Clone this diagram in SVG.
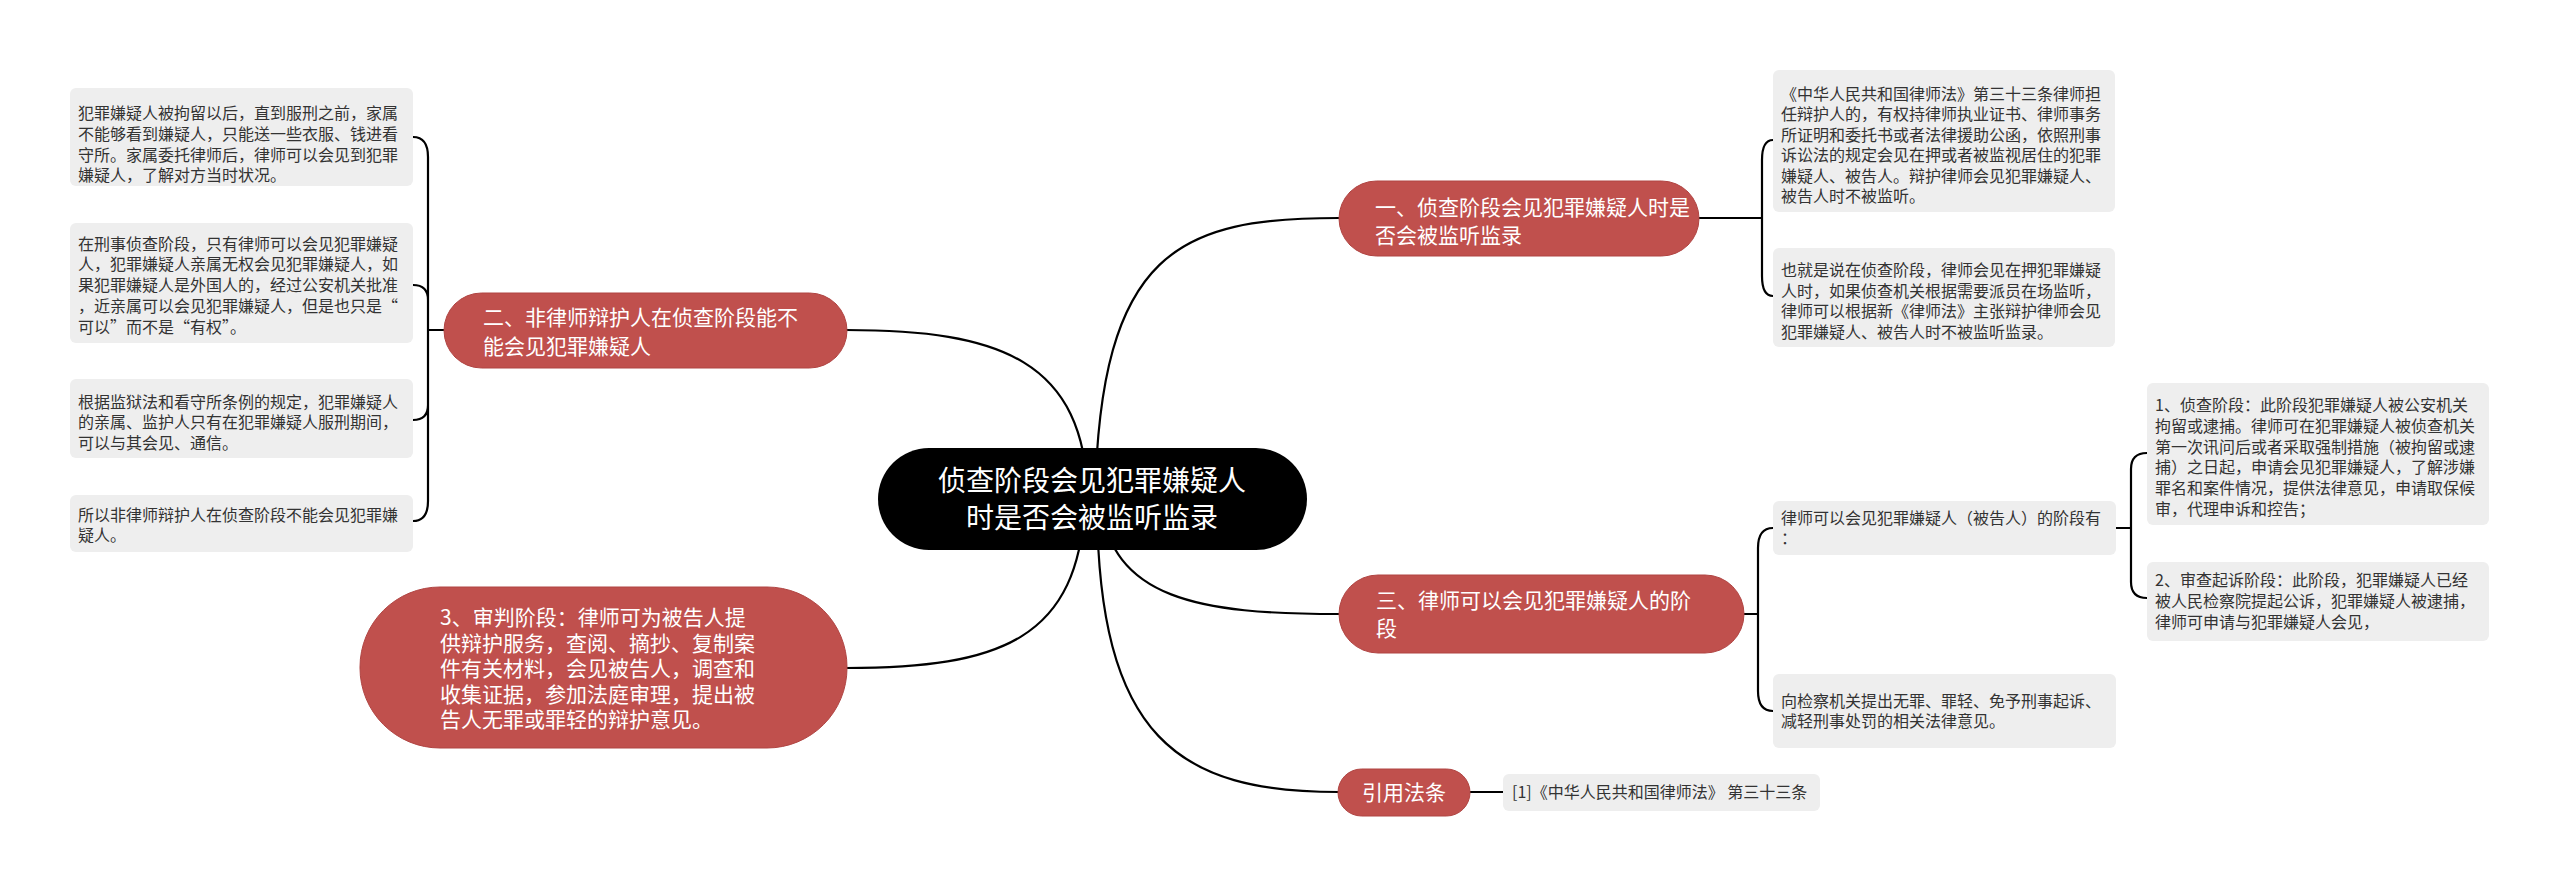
<svg xmlns="http://www.w3.org/2000/svg" width="2560" height="887" viewBox="0 0 2560 887">
<style>
.bg{fill:#ffffff}
.conn{fill:none;stroke:#000;stroke-width:2.2}
.root{fill:#000}
.main{fill:#C0504D;stroke:#B04442;stroke-width:1}
.leaf{fill:#EEEEEE}
.tr{font-family:"Noto Sans CJK SC","Noto Sans",sans-serif;font-size:28px;fill:#fff}
.tm{font-family:"Noto Sans CJK SC","Noto Sans",sans-serif;font-size:21px;fill:#fff}
.tl{font-family:"Noto Sans CJK SC","Noto Sans",sans-serif;font-size:16px;fill:#333}
</style>
<rect class="bg" x="0" y="0" width="2560" height="887"/>
<g id="connectors">
<path class="conn" d="M1095 499 C1100 250,1180 218,1339 218"/>
<path class="conn" d="M846 330 C1000 330,1085 360,1088 499"/>
<path class="conn" d="M846 668 C1000 668,1080 640,1085 499"/>
<path class="conn" d="M1100 499 C1110 600,1200 614,1339 614"/>
<path class="conn" d="M1097 499 C1097 740,1180 792,1339 792"/>
<path class="conn" d="M1470 792 L1503 792"/>
<path class="conn" d="M1699 218 L1762 218 M1773 140 Q1762 140 1762 160 L1762 276 Q1762 296 1773 296"/>
<path class="conn" d="M444 330 L428 330 M413 137 Q428 137 428 157 L428 501 Q428 521 413 521 M413 285 Q428 285 428 300 M413 420 Q428 420 428 405"/>
<path class="conn" d="M1744 614 L1758 614 M1773 528 Q1758 528 1758 548 L1758 691 Q1758 711 1773 711"/>
<path class="conn" d="M2116 528 L2131 528 M2147 453 Q2131 453 2131 469 L2131 582 Q2131 598 2147 598"/>
</g>
<g id="root">
<rect class="root" x="878" y="448" width="429" height="102" rx="51"/>
<text class="tr" x="1092" y="491" text-anchor="middle">侦查阶段会见犯罪嫌疑人</text>
<text class="tr" x="1092" y="528" text-anchor="middle">时是否会被监听监录</text>
</g>
<g id="n1">
<rect class="main" x="1339" y="181" width="360" height="75" rx="37.5"/>
<text class="tm" x="1375" y="215">一、侦查阶段会见犯罪嫌疑人时是</text>
<text class="tm" x="1375" y="243">否会被监听监录</text>
</g>
<g id="n2">
<rect class="main" x="444" y="293" width="403" height="75" rx="37.5"/>
<text class="tm" x="483" y="325">二、非律师辩护人在侦查阶段能不</text>
<text class="tm" x="483" y="354">能会见犯罪嫌疑人</text>
</g>
<g id="n3trial">
<rect class="main" x="360" y="587" width="487" height="161" rx="80"/>
<text class="tm" x="440" y="625">3、审判阶段：律师可为被告人提</text>
<text class="tm" x="440" y="650.5">供辩护服务，查阅、摘抄、复制案</text>
<text class="tm" x="440" y="676">件有关材料，会见被告人，调查和</text>
<text class="tm" x="440" y="701.5">收集证据，参加法庭审理，提出被</text>
<text class="tm" x="440" y="727">告人无罪或罪轻的辩护意见。</text>
</g>
<g id="n3">
<rect class="main" x="1339" y="575" width="405" height="78" rx="39"/>
<text class="tm" x="1376" y="608">三、律师可以会见犯罪嫌疑人的阶</text>
<text class="tm" x="1376" y="636">段</text>
</g>
<g id="n4">
<rect class="main" x="1338" y="769" width="132" height="47" rx="23.5"/>
<text class="tm" x="1404" y="800" text-anchor="middle">引用法条</text>
</g>
<g id="leafA">
<rect class="leaf" x="1773" y="70" width="342" height="142" rx="6"/>
<text class="tl" x="1781" y="99.5">《中华人民共和国律师法》第三十三条律师担</text>
<text class="tl" x="1781" y="120">任辩护人的，有权持律师执业证书、律师事务</text>
<text class="tl" x="1781" y="140.5">所证明和委托书或者法律援助公函，依照刑事</text>
<text class="tl" x="1781" y="161">诉讼法的规定会见在押或者被监视居住的犯罪</text>
<text class="tl" x="1781" y="181.5">嫌疑人、被告人。辩护律师会见犯罪嫌疑人、</text>
<text class="tl" x="1781" y="202">被告人时不被监听。</text>
</g>
<g id="leafB">
<rect class="leaf" x="1773" y="248" width="342" height="99" rx="6"/>
<text class="tl" x="1781" y="276">也就是说在侦查阶段，律师会见在押犯罪嫌疑</text>
<text class="tl" x="1781" y="296.5">人时，如果侦查机关根据需要派员在场监听，</text>
<text class="tl" x="1781" y="317">律师可以根据新《律师法》主张辩护律师会见</text>
<text class="tl" x="1781" y="337.5">犯罪嫌疑人、被告人时不被监听监录。</text>
</g>
<g id="leafC">
<rect class="leaf" x="70" y="88" width="343" height="98" rx="6"/>
<text class="tl" x="78" y="119">犯罪嫌疑人被拘留以后，直到服刑之前，家属</text>
<text class="tl" x="78" y="139.8">不能够看到嫌疑人，只能送一些衣服、钱进看</text>
<text class="tl" x="78" y="160.6">守所。家属委托律师后，律师可以会见到犯罪</text>
<text class="tl" x="78" y="181.4">嫌疑人，了解对方当时状况。</text>
</g>
<g id="leafD">
<rect class="leaf" x="70" y="223" width="343" height="120" rx="6"/>
<text class="tl" x="78" y="249.5">在刑事侦查阶段，只有律师可以会见犯罪嫌疑</text>
<text class="tl" x="78" y="270.3">人，犯罪嫌疑人亲属无权会见犯罪嫌疑人，如</text>
<text class="tl" x="78" y="291.1">果犯罪嫌疑人是外国人的，经过公安机关批准</text>
<text class="tl" x="78" y="311.9">，近亲属可以会见犯罪嫌疑人，但是也只是“</text>
<text class="tl" x="78" y="332.7">可以”而不是“有权”。</text>
</g>
<g id="leafE">
<rect class="leaf" x="70" y="379" width="343" height="79" rx="6"/>
<text class="tl" x="78" y="407.5">根据监狱法和看守所条例的规定，犯罪嫌疑人</text>
<text class="tl" x="78" y="428.3">的亲属、监护人只有在犯罪嫌疑人服刑期间，</text>
<text class="tl" x="78" y="449.1">可以与其会见、通信。</text>
</g>
<g id="leafF">
<rect class="leaf" x="70" y="495" width="343" height="57" rx="6"/>
<text class="tl" x="78" y="520.5">所以非律师辩护人在侦查阶段不能会见犯罪嫌</text>
<text class="tl" x="78" y="541.3">疑人。</text>
</g>
<g id="leafG">
<rect class="leaf" x="1773" y="501" width="343" height="54" rx="6"/>
<text class="tl" x="1781" y="523.6">律师可以会见犯罪嫌疑人（被告人）的阶段有</text>
<text class="tl" x="1781" y="544.4">：</text>
</g>
<g id="leafH">
<rect class="leaf" x="1773" y="674" width="343" height="74" rx="6"/>
<text class="tl" x="1781" y="706.6">向检察机关提出无罪、罪轻、免予刑事起诉、</text>
<text class="tl" x="1781" y="727.4">减轻刑事处罚的相关法律意见。</text>
</g>
<g id="leafI">
<rect class="leaf" x="2147" y="383" width="342" height="142" rx="6"/>
<text class="tl" x="2155" y="411">1、侦查阶段：此阶段犯罪嫌疑人被公安机关</text>
<text class="tl" x="2155" y="431.8">拘留或逮捕。律师可在犯罪嫌疑人被侦查机关</text>
<text class="tl" x="2155" y="452.6">第一次讯问后或者采取强制措施（被拘留或逮</text>
<text class="tl" x="2155" y="473.4">捕）之日起，申请会见犯罪嫌疑人，了解涉嫌</text>
<text class="tl" x="2155" y="494.2">罪名和案件情况，提供法律意见，申请取保候</text>
<text class="tl" x="2155" y="515">审，代理申诉和控告；</text>
</g>
<g id="leafJ">
<rect class="leaf" x="2147" y="562" width="342" height="79" rx="6"/>
<text class="tl" x="2155" y="586">2、审查起诉阶段：此阶段，犯罪嫌疑人已经</text>
<text class="tl" x="2155" y="606.8">被人民检察院提起公诉，犯罪嫌疑人被逮捕，</text>
<text class="tl" x="2155" y="627.6">律师可申请与犯罪嫌疑人会见，</text>
</g>
<g id="leafK">
<rect class="leaf" x="1503" y="774" width="317" height="37" rx="6"/>
<text class="tl" x="1512" y="798">[1]《中华人民共和国律师法》 第三十三条</text>
</g>
</svg>
